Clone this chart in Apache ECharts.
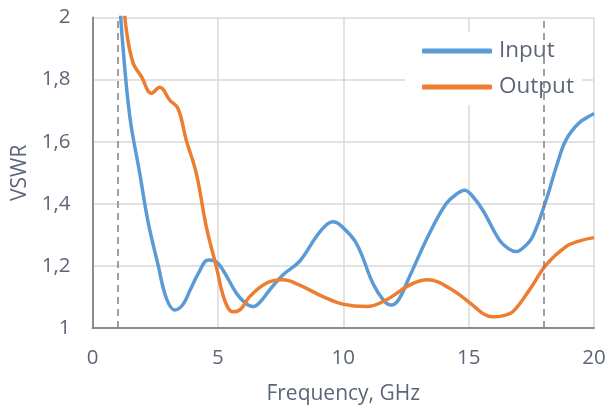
<!DOCTYPE html>
<html>
<head>
<meta charset="UTF-8">
<script src="https://cdn.jsdelivr.net/npm/echarts@6/dist/echarts.min.js"></script>
<style>
  html, body { margin: 0; padding: 0; background: #fff; }
  #chart { width: 609px; height: 411px; }
</style>
</head>
<body>
<div id="chart"></div>
<script>
// VSWR vs frequency
var inputFreq = [1.08, 1.2, 1.49, 1.88, 2.22, 2.61, 2.95, 3.28, 3.6, 3.88, 4.25, 4.61, 4.9, 5.2, 5.74, 6.1, 6.4, 6.7, 7.06, 7.59, 8.26, 8.92, 9.3, 9.59, 9.9, 10.52, 11.18, 11.6, 11.91, 12.2, 12.64, 13.44, 14.1, 14.5, 14.84, 15.1, 15.56, 16.23, 16.6, 16.89, 17.2, 17.55, 18.09, 18.5, 18.88, 19.4, 19.94, 20];
var inputVswr = [2.06, 1.92, 1.68, 1.50, 1.34, 1.205, 1.095, 1.058, 1.075, 1.12, 1.18, 1.219, 1.215, 1.187, 1.112, 1.08, 1.069, 1.085, 1.122, 1.171, 1.215, 1.294, 1.33, 1.342, 1.33, 1.273, 1.144, 1.09, 1.074, 1.09, 1.165, 1.305, 1.40, 1.43, 1.444, 1.43, 1.38, 1.283, 1.255, 1.246, 1.26, 1.294, 1.412, 1.52, 1.605, 1.66, 1.688, 1.69];
var outputFreq = [1.25, 1.35, 1.62, 1.95, 2.35, 2.68, 3.08, 3.41, 3.74, 4.14, 4.54, 4.94, 5.27, 5.6, 5.9, 6.27, 6.93, 7.59, 8.26, 9.19, 9.98, 10.92, 11.71, 12.64, 13.37, 14.24, 15.16, 15.6, 15.96, 16.4, 16.76, 17.42, 18.09, 18.88, 19.4, 20.0];
var outputVswr = [2.05, 1.96, 1.853, 1.81, 1.756, 1.775, 1.734, 1.707, 1.605, 1.498, 1.326, 1.197, 1.09, 1.052, 1.06, 1.101, 1.144, 1.155, 1.138, 1.101, 1.077, 1.069, 1.09, 1.138, 1.155, 1.128, 1.074, 1.045, 1.036, 1.04, 1.052, 1.122, 1.203, 1.262, 1.28, 1.291];
var bandEdges = [1, 18];

var textColor = '#5d6579';
var font = 'Open Sans';

function pairs(xs, ys) {
  return xs.map(function (x, i) { return [x, ys[i]]; });
}

var chart = echarts.init(document.getElementById('chart'));

chart.setOption({
  animation: false,
  grid: { left: 92.5, right: 15, top: 17.5, bottom: 83 },
  legend: {
    orient: 'vertical',
    left: 405,
    top: 32,
    padding: [6, 8, 5, 17],
    backgroundColor: '#fff',
    itemWidth: 70,
    itemHeight: 5,
    itemGap: 10,
    icon: 'roundRect',
    textStyle: { color: textColor, fontFamily: font, fontSize: 22.5, lineHeight: 26, padding: [0, 0, 0, 2] },
    data: ['Input', 'Output']
  },
  xAxis: {
    type: 'value',
    min: 0, max: 20, interval: 5,
    name: 'Frequency, GHz',
    nameLocation: 'middle',
    nameGap: 56,
    nameTextStyle: { color: textColor, fontFamily: font, fontSize: 21 },
    axisLine: { lineStyle: { color: '#8c8c8c', width: 2 } },
    axisTick: { show: false },
    axisLabel: { color: textColor, fontFamily: font, fontSize: 20.5, margin: 20 },
    splitLine: { lineStyle: { color: '#d9d9d9', width: 1.5 } }
  },
  yAxis: {
    type: 'value',
    min: 1, max: 2, interval: 0.2,
    name: 'VSWR',
    nameLocation: 'middle',
    nameGap: 62,
    nameTextStyle: { color: textColor, fontFamily: font, fontSize: 21 },
    axisLine: { show: true, lineStyle: { color: '#8c8c8c', width: 2 } },
    axisTick: { show: false },
    axisLabel: {
      color: textColor, fontFamily: font, fontSize: 20.5, margin: 22,
      formatter: function (v) { return String(+v.toFixed(1)).replace('.', ','); }
    },
    splitLine: { lineStyle: { color: '#d9d9d9', width: 1.5 } }
  },
  series: [
    {
      name: 'Input',
      type: 'line',
      data: pairs(inputFreq, inputVswr),
      smooth: 0.4,
      showSymbol: false,
      color: '#5b9bd5',
      lineStyle: { width: 3.5, color: '#5b9bd5' },
      markLine: {
        silent: true,
        symbol: 'none',
        label: { show: false },
        lineStyle: { color: '#808080', type: [7, 5], width: 1.5 },
        data: bandEdges.map(function (f) { return { xAxis: f }; })
      },
      z: 3
    },
    {
      name: 'Output',
      type: 'line',
      data: pairs(outputFreq, outputVswr),
      smooth: 0.4,
      showSymbol: false,
      color: '#ed7d31',
      lineStyle: { width: 3.5, color: '#ed7d31' },
      z: 4
    }
  ]
});
</script>
</body>
</html>
